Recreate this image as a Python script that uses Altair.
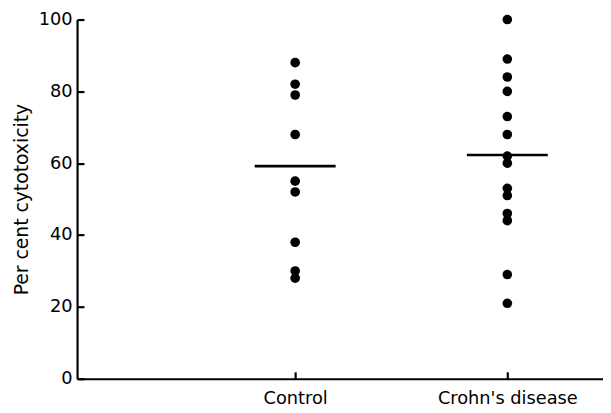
import json
import altair as alt
import pandas as pd

categories = ["Control", "Crohn's disease"]
control_values = [88, 82, 79, 68, 55, 52, 38, 30, 28]
crohn_values = [100, 89, 84, 80, 73, 68, 62, 60, 53, 51, 46, 44, 29, 21]
mean_values = [59.2, 62.3]
y_ticks = [0, 20, 40, 60, 80, 100]

points = pd.DataFrame(
    {"group": [1] * len(control_values) + [2] * len(crohn_values),
     "value": control_values + crohn_values}
)
means = pd.DataFrame({"group": [1, 2], "value": mean_values})

FONT = "DejaVu Sans"
label_expr = f"{json.dumps(categories)}[round(datum.value) - 1]"
x_scale = alt.Scale(domain=[-0.028, 2.451], nice=False, zero=False)
y_scale = alt.Scale(domain=[0, 100], nice=False)

pts = alt.Chart(points).mark_circle(size=95, color="black", opacity=1).encode(
    x=alt.X("group:Q", scale=x_scale,
            axis=alt.Axis(orient="bottom", values=[1, 2], labelExpr=label_expr,
                          title=None, ticks=False, tickSize=0, grid=False,
                          domainColor="black", domainWidth=2.2, labelFont=FONT,
                          labelFontSize=18, labelColor="black", labelPadding=11)),
    y=alt.Y("value:Q", scale=y_scale,
            axis=alt.Axis(orient="left", values=y_ticks, title="Per cent cytotoxicity",
                          ticks=False, tickSize=0, grid=False, domainColor="black",
                          domainWidth=2.2, labelFont=FONT, labelFontSize=18,
                          labelColor="black", labelPadding=5, titleFont=FONT,
                          titleFontSize=19, titleFontWeight="normal",
                          titleColor="black", titlePadding=7)),
)

mean_marks = alt.Chart(means).mark_tick(
    orient="horizontal", size=82, thickness=2.6, color="black", opacity=1
).encode(
    x=alt.X("group:Q", scale=x_scale,
            axis=alt.Axis(orient="bottom", values=[1, 2], labels=False, domain=False,
                          grid=False, title=None, tickSize=7, tickWidth=2.2,
                          tickColor="black", offset=-7)),
    y=alt.Y("value:Q", scale=y_scale,
            axis=alt.Axis(orient="left", values=y_ticks, labels=False, domain=False,
                          grid=False, title=None, tickSize=7, tickWidth=2.2,
                          tickColor="black", offset=-7)),
)

chart = (
    alt.layer(pts, mean_marks)
    .resolve_axis(x="independent", y="independent")
    .properties(
        width=533, height=364,
        autosize=alt.AutoSizeParams(type="none"),
        padding={"left": 70, "top": 9, "right": 0, "bottom": 30},
    )
    .configure_view(stroke=None)
)

chart.save("out.html", embed_options={"renderer": "svg", "actions": False})
